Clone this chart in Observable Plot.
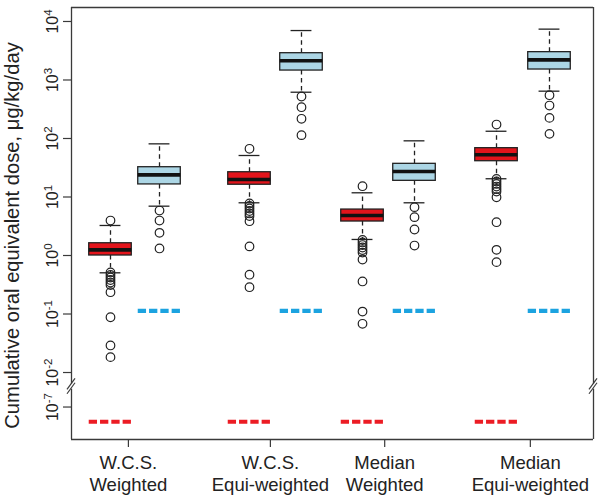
<!DOCTYPE html>
<html>
<head>
<meta charset="utf-8">
<script src="https://cdn.jsdelivr.net/npm/d3@7"></script>
<script src="https://cdn.jsdelivr.net/npm/@observablehq/plot@0.6"></script>
<style>
  html, body { margin: 0; padding: 0; background: #fff; }
  svg { display: block; }
</style>
</head>
<body>
<div id="chart"></div>
<script>
// ---- Data ----
const groupLabels = ["W.C.S.\nWeighted", "W.C.S.\nEqui-weighted", "Median\nWeighted", "Median\nEqui-weighted"];
const groupAt = [1.09, 3.81, 6.0, 8.79];

const boxAt     = [0.747, 1.686, 3.41, 4.406, 5.575, 6.571, 8.142, 9.157];
const boxSeries = ["red", "blue", "red", "blue", "red", "blue", "red", "blue"];

const lowerWhisker = [0.506, 6.97, 7.96, 618, 1.88, 7.96, 20.5, 644];
const q1           = [1.0, 16.4, 16.2, 1450, 3.81, 18.9, 40.9, 1510];
const median       = [1.25, 23.9, 19.9, 2130, 4.83, 27.3, 52.6, 2210];
const q3           = [1.62, 32.3, 26.5, 2870, 6.1, 36.9, 68.3, 2990];
const upperWhisker = [3.26, 81, 51.2, 7000, 11.8, 91.2, 133, 7400];

const outliers = [
  [3.96, 0.512, 0.465, 0.421, 0.381, 0.345, 0.313, 0.236, 0.088, 0.029, 0.0183],
  [5.87, 3.96, 2.44, 1.32],
  [66.7, 7.74, 7.02, 6.36, 5.76, 5.23, 4.73, 3.86, 1.43, 0.47, 0.287],
  [522, 343, 217, 114],
  [15.3, 1.84, 1.67, 1.51, 1.37, 1.24, 1.12, 0.855, 0.36, 0.11, 0.068],
  [6.7, 4.52, 2.78, 1.48],
  [173, 20.3, 18.4, 16.7, 15.1, 13.7, 12.4, 9.9, 3.71, 1.25, 0.77],
  [550, 366, 225, 120]
];

const refLevel = [5.6e-8, 0.113, 5.6e-8, 0.113, 5.6e-8, 0.113, 5.6e-8, 0.113];

const tickValues = [1e4, 1e3, 1e2, 1e1, 1e0, 1e-1, 1e-2, 1e-7];
const tickLabels = ["10^4", "10^3", "10^2", "10^1", "10^0", "10^-1", "10^-2", "10^-7"];

// ---- Broken log axis: upper segment is log10, lower segment is shifted up ----
const lowerShift = 4.41;   // decades removed by the axis break
const breakT = -2.24;      // break position (transformed units)
function tr(v) {
  const l = Math.log10(v);
  return v > 1e-4 ? l : l + lowerShift;
}

const fills = {red: "#e3141b", blue: "#acd6e5"};
const refColors = {red: "#ec1c24", blue: "#1ca3e0"};
const boxW = 0.815, capW = 0.4;

const boxes = boxAt.map((at, i) => ({
  at, series: boxSeries[i],
  lo: tr(lowerWhisker[i]), q1: tr(q1[i]), med: tr(median[i]), q3: tr(q3[i]), hi: tr(upperWhisker[i]),
  ref: tr(refLevel[i])
}));
const outlierPts = outliers.flatMap((arr, i) => arr.map(v => ({at: boxAt[i], t: tr(v)})));
const yTicks = tickValues.map((v, i) => ({t: tr(v), label: tickLabels[i]}));
const tickLabelOf = new Map(yTicks.map(d => [d.t, d.label]));
const groupLabelOf = new Map(groupAt.map((a, i) => [a, groupLabels[i]]));

const yTop = 4.239, yBottom = -3.145, xMin = 0, xMax = 10;
const frameColor = "#3a3a3a";
const gapT = 0.045;

const plot = Plot.plot({
  width: 600,
  height: 495,
  marginLeft: 71,
  marginRight: 7,
  marginTop: 7,
  marginBottom: 56,
  style: {fontFamily: "'Liberation Sans', Arial, sans-serif", color: "#222", background: "#fff"},
  x: {domain: [xMin, xMax], axis: null},
  y: {domain: [yBottom, yTop], axis: null},
  marks: [
    // frame with breaks on left and right
    Plot.ruleY([yTop, yBottom], {x1: xMin, x2: xMax, stroke: frameColor, strokeWidth: 1.3}),
    Plot.ruleX([xMin, xMax], {y1: yTop, y2: breakT + gapT, stroke: frameColor, strokeWidth: 1.3}),
    Plot.ruleX([xMin, xMax], {y1: breakT - gapT, y2: yBottom, stroke: frameColor, strokeWidth: 1.3}),
    // y axis
    Plot.axisY({
      ticks: yTicks.map(d => d.t),
      tickSize: 8,
      tickPadding: 6,
      tickRotate: -90,
      tickFormat: t => tickLabelOf.get(t),
      label: null,
      fontSize: 16,
      stroke: frameColor,
      strokeWidth: 1.2
    }),
    // x axis
    Plot.axisX({
      ticks: groupAt,
      tickSize: 8,
      tickPadding: 6,
      tickFormat: a => groupLabelOf.get(a),
      label: null,
      fontSize: 18.5,
      lineHeight: 1.19,
      stroke: frameColor,
      strokeWidth: 1.2
    }),
    // y title
    Plot.text(["Cumulative oral equivalent dose, μg/kg/day"], {
      frameAnchor: "left", rotate: -90, dx: -53, dy: 12,
      fontSize: 20.2, textAnchor: "middle", lineAnchor: "bottom", fill: "#222"
    }),
    // reference dashed lines
    Plot.ruleY(boxes, {
      y: "ref", x1: d => d.at - boxW / 2, x2: d => d.at + boxW / 2,
      stroke: d => refColors[d.series], strokeWidth: 4.2, strokeDasharray: "8.3,3"
    }),
    // whiskers
    Plot.ruleX(boxes, {x: "at", y1: "q3", y2: "hi", stroke: "#222", strokeWidth: 1.3, strokeDasharray: "4.5,3.5"}),
    Plot.ruleX(boxes, {x: "at", y1: "q1", y2: "lo", stroke: "#222", strokeWidth: 1.3, strokeDasharray: "4.5,3.5"}),
    // caps
    Plot.ruleY(boxes, {y: "hi", x1: d => d.at - capW / 2, x2: d => d.at + capW / 2, stroke: "#222", strokeWidth: 1.3}),
    Plot.ruleY(boxes, {y: "lo", x1: d => d.at - capW / 2, x2: d => d.at + capW / 2, stroke: "#222", strokeWidth: 1.3}),
    // boxes
    Plot.rect(boxes, {
      x1: d => d.at - boxW / 2, x2: d => d.at + boxW / 2, y1: "q1", y2: "q3",
      fill: d => fills[d.series], stroke: "#222", strokeWidth: 1.3
    }),
    // medians
    Plot.ruleY(boxes, {y: "med", x1: d => d.at - boxW / 2, x2: d => d.at + boxW / 2, stroke: "#111", strokeWidth: 3.6}),
    // outliers
    Plot.dot(outlierPts, {x: "at", y: "t", r: 4.3, stroke: "#222", strokeWidth: 1.2, fill: "none"})
  ]
});

// superscripts for the tick labels
d3.select(plot).selectAll('g[aria-label="y-axis tick label"] text').each(function () {
  const s = this.textContent;
  const parts = s.split("^");
  if (parts.length < 2) return;
  const el = d3.select(this);
  el.text(parts[0]);
  el.append("tspan").attr("dy", "-0.5em").attr("font-size", "0.72em").text(parts[1]);
});

// axis break marks ("//") on both sides, positioned through the plot's scales
const sx = plot.scale("x").apply, sy = plot.scale("y").apply;
const yb = sy(breakT);
const svgSel = d3.select(plot);
[xMin, xMax].forEach(xv => {
  const x0 = sx(xv);
  [-2.2, 2.2].forEach(c => {
    svgSel.append("line")
      .attr("x1", x0 - 4).attr("y1", yb + c + 5.5)
      .attr("x2", x0 + 4).attr("y2", yb + c - 5.5)
      .attr("stroke", frameColor).attr("stroke-width", 1.2);
  });
});

document.getElementById("chart").appendChild(plot);
</script>
</body>
</html>
